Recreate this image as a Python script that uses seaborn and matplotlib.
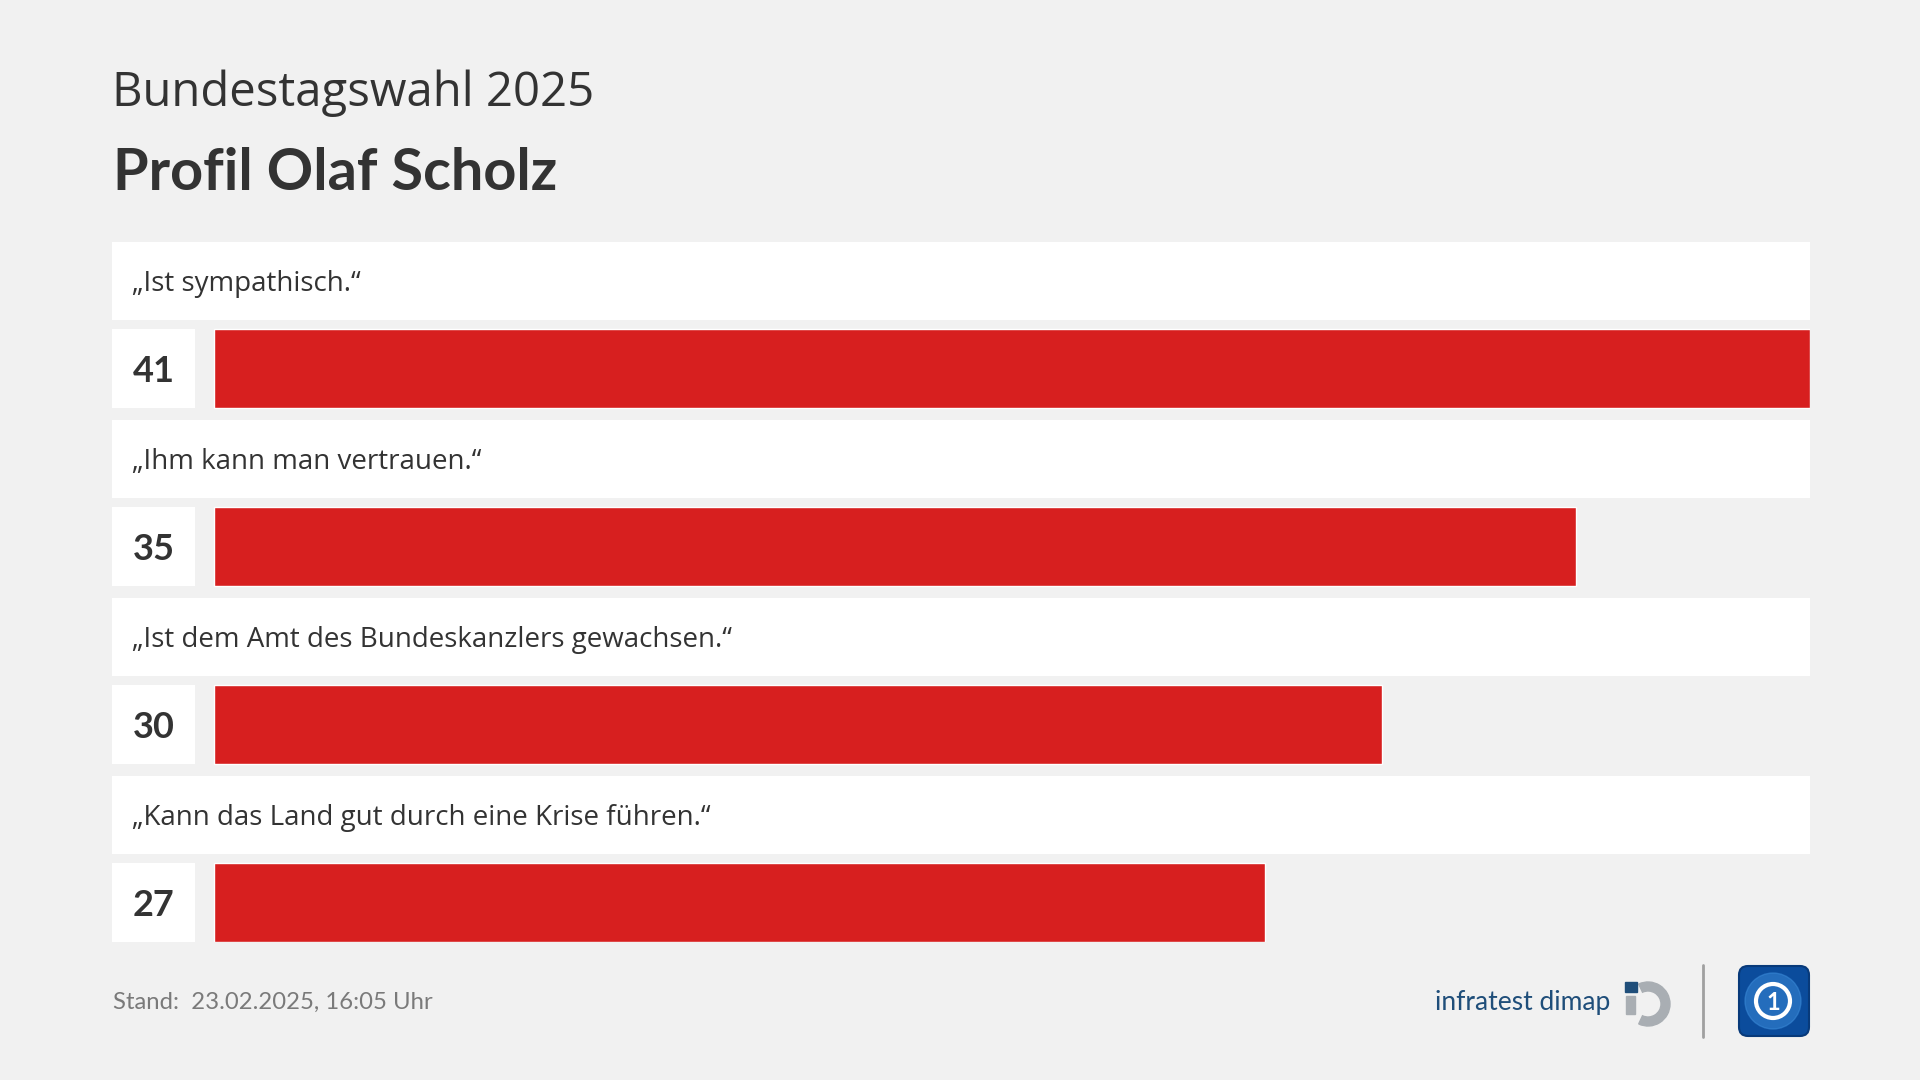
import matplotlib
matplotlib.use("Agg")
import matplotlib.pyplot as plt
import seaborn as sns
import pandas as pd
from matplotlib.patches import Rectangle, FancyBboxPatch, Wedge, Circle

# data
statements = [
    "\u201eIst sympathisch.\u201c",
    "\u201eIhm kann man vertrauen.\u201c",
    "\u201eIst dem Amt des Bundeskanzlers gewachsen.\u201c",
    "\u201eKann das Land gut durch eine Krise f\u00fchren.\u201c",
]
values = [41, 35, 30, 27]

supertitle = "Bundestagswahl 2025"
title = "Profil Olaf Scholz"
stand = "Stand:  23.02.2025, 16:05 Uhr"

BG = "#f1f1f1"
RED = "#d71f1f"
TXT = "#333333"
REG = ["Open Sans", "DejaVu Sans"]
BOLD = ["Lato", "DejaVu Sans"]

sns.set_theme(style="white")
plt.rcParams["font.family"] = ["Lato", "DejaVu Sans"]

fig = plt.figure(figsize=(19.2, 10.8), dpi=100, facecolor=BG)

# pixel overlay for header / footer
bg = fig.add_axes([0, 0, 1, 1], zorder=0)
bg.set_xlim(0, 1920)
bg.set_ylim(1080, 0)
bg.axis("off")
bg.set_facecolor("none")

bg.text(112, 106, supertitle, fontsize=34, family=REG, color=TXT, va="baseline")
bg.text(113, 190, title, fontsize=41.5, family=BOLD, fontweight="bold", color=TXT, va="baseline")
bg.text(113, 1009, stand, fontsize=17.2, family=BOLD, color="#7a7a7a", va="baseline")

# infratest dimap logo
bg.text(1610, 1010, "infratest dimap", fontsize=19, family=BOLD, color="#1f4e7a",
        ha="right", va="baseline")
bg.add_patch(Wedge((1648, 1004), 22, -115, 115, width=9, color="#a9aeb3"))
bg.add_patch(Rectangle((1626, 996), 9, 18, color="#a9aeb3"))
bg.add_patch(Rectangle((1625, 982), 12, 10, color="#1f4e7a"))
bg.plot([1703, 1703], [965, 1037], color="#a0a0a0", lw=2)

# ARD logo
bg.add_patch(FancyBboxPatch((1742, 969), 64, 64, boxstyle="round,pad=3,rounding_size=9",
                            facecolor="#0b4c9c", edgecolor="#083a7a", lw=1.5))
bg.add_patch(Circle((1773, 1001), 28, color="#3a8ad8", alpha=0.55))
bg.add_patch(Circle((1773, 1001), 17, facecolor="none", edgecolor="white", lw=3))
bg.text(1773, 1002, "1", fontsize=17, family=BOLD, fontweight="bold", color="white",
        ha="center", va="center")

# bar chart
ax = fig.add_axes([112 / 1920, 1 - 942 / 1080, 1698 / 1920, 700 / 1080], zorder=1)
ax.set_facecolor("none")

df = pd.DataFrame({"aussage": statements, "wert": values})
pitch = 178.0
sns.barplot(data=df, x="wert", y="aussage", orient="h", color=RED, saturation=1,
            width=79 / pitch, ax=ax, zorder=3)

vmax = max(values)
ax.set_xlim(-vmax * 102 / 1596, vmax)
ax.set_ylim((942 - 368.5) / pitch, (242 - 368.5) / pitch)

tr = ax.get_yaxis_transform()
for i, (s, v) in enumerate(zip(statements, values)):
    ax.add_patch(Rectangle((0, i - 126.5 / pitch), 1, 78 / pitch, transform=tr,
                           facecolor="white", edgecolor="none", zorder=1))
    ax.add_patch(Rectangle((0, i - 39.5 / pitch), 83 / 1698, 79 / pitch, transform=tr,
                           facecolor="white", edgecolor="none", zorder=1))
    ax.text(20 / 1698, i - 78 / pitch, s, transform=tr, fontsize=20, family=REG,
            color=TXT, va="baseline", zorder=4)
    ax.text(41.5 / 1698, i + 13.5 / pitch, str(v), transform=tr, fontsize=26,
            family=BOLD, fontweight="bold", color=TXT, ha="center", va="baseline", zorder=4)

ax.set_xlabel("")
ax.set_ylabel("")
ax.set_xticks([])
ax.set_yticks([])
for sp in ax.spines.values():
    sp.set_visible(False)

fig.savefig("out.png", dpi=100, facecolor=BG)
